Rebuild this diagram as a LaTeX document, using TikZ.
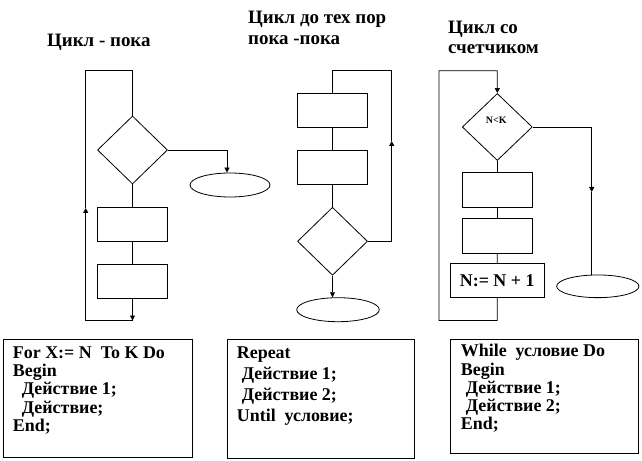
\documentclass[tikz,border=0pt]{standalone}
\usepackage{fontspec}
\setmainfont{Liberation Serif}
\usetikzlibrary{shapes.geometric,arrows.meta}
\begin{document}
\begin{tikzpicture}[x=1bp,y=-1bp,
  line/.style={line width=0.8bp,line join=miter},
  arr/.style={line,-{Triangle[length=5bp,width=5bp]}},
  dia/.style={draw,line,diamond,inner sep=0pt,minimum width=70bp,minimum height=68bp},
  blk/.style={draw,line,rectangle,inner sep=0pt,minimum width=70bp,minimum height=34bp},
  ell/.style={draw,line,ellipse,inner sep=0pt,minimum width=82bp,minimum height=24bp},
  ttl/.style={inner sep=0pt,anchor=base west,align=left},
  codetxt/.style={inner sep=0pt,anchor=base west,align=left},
  cbox/.style={draw,line,rectangle,inner sep=0pt,anchor=north west}
]
\useasboundingbox (0,0) rectangle (642,461);
\fill[white] (0,0) rectangle (642,461);

% ---------- titles (base = last line's baseline) ----------
\node[ttl,font=\fontsize{19}{21}\selectfont\bfseries] (T1) at (47,46.5) {Цикл - пока};
\node[ttl,font=\fontsize{19}{21.7}\selectfont\bfseries] (T2) at (248,45) {Цикл до тех пор\\пока -пока};
\node[ttl,font=\fontsize{19}{20}\selectfont\bfseries] (T3) at (448,53.3) {Цикл со\\счетчиком};

% ---------- chart 1 ----------
\node[dia] (d1) at (132.5,150) {};
\node[blk] (b11) at (132.5,224) {};
\node[blk] (b12) at (132.5,281) {};
\node[ell,minimum width=80bp] (e1) at (230,185) {};
\coordinate (c1a) at (132.5,320.5);
\coordinate (c1b) at (85.7,320.5);
\coordinate (c1c) at (85.7,208);
\coordinate (c1d) at (85.7,70.7);
\coordinate (c1e) at (132.5,70.7);
\draw[line] (d1.south) -- (b11.north);
\draw[line] (b11.south) -- (b12.north);
\draw[arr] (b12.south) -- (c1a);
\draw[arr] (c1a) -- (c1b) -- (c1c);
\draw[line] (c1c) -- (c1d) -- (c1e) -- (d1.north);
\draw[arr] (d1.east) -| ([xshift=-3bp]e1.north);

% ---------- chart 2 ----------
\node[blk] (b21) at (332.5,110.3) {};
\node[blk] (b22) at (332.5,167) {};
\node[dia] (d2) at (332.5,241.3) {};
\node[ell,minimum width=82.6bp] (e2) at (338,309.7) {};
\coordinate (c2a) at (391.7,241.3);
\coordinate (c2b) at (391.7,141);
\coordinate (c2c) at (391.7,70.7);
\coordinate (c2d) at (332.5,70.7);
\draw[line] (b21.south) -- (b22.north);
\draw[line] (b22.south) -- (d2.north);
\draw[arr] (d2.south) -- (d2.south |- e2.north);
\draw[arr] (d2.east) -- (c2a) -- (c2b);
\draw[line] (c2b) -- (c2c) -- (c2d) -- (b21.north);

% ---------- chart 3 ----------
\node[dia,minimum height=67bp] (d3) at (497.3,127) {};
\node[inner sep=0pt,font=\fontsize{10}{10}\selectfont\bfseries] (lk) at (496.3,120) {N<K};
\node[blk,minimum height=34.6bp] (b31) at (497.3,190) {};
\node[blk,minimum height=35bp] (b32) at (497.3,235.8) {};
\node[blk,minimum width=94.3bp,minimum height=34.4bp,font=\fontsize{18}{18}\selectfont\bfseries] (b33) at (497.2,280.5) {N:= N + 1};
\node[ell,minimum width=82.3bp,minimum height=22.7bp] (e3) at (597.8,286.3) {};
\coordinate (c3a) at (497.3,320.5);
\coordinate (c3b) at (439,320.5);
\coordinate (c3c) at (439,70.7);
\coordinate (c3d) at (497.3,70.7);
\coordinate (c3e) at (591.7,127);
\coordinate (c3f) at (591.7,192);
\draw[line] (d3.south) -- (b31.north);
\draw[line] (b31.south) -- (b32.north);
\draw[line] (b32.south) -- (b33.north);
\draw[arr] (b33.south) -- (c3a) -- (c3b) -- (c3c) -- (c3d) -- (d3.north);
\draw[arr] (d3.east) -- (c3e) -- (c3f);
\draw[line] (c3f) -- (c3f |- e3.north);

% ---------- code boxes ----------
\node[cbox,minimum width=189.6bp,minimum height=117.7bp] (cb1) at (2.7,339) {};
\node[cbox,minimum width=187.6bp,minimum height=118.7bp] (cb2) at (226.7,339) {};
\node[cbox,minimum width=188.3bp,minimum height=114.3bp] (cb3) at (450,339) {};

\node[codetxt,font=\fontsize{18}{18.4}\selectfont\bfseries] (k1) at (12.7,431.6)
 {For X:= N\ \ To K Do\\Begin\\\hspace*{9bp}Действие 1;\\\hspace*{9bp}Действие;\\End;};
\node[codetxt,font=\fontsize{18}{21.2}\selectfont\bfseries] (k2) at (236.7,421.6)
 {Repeat\\\hspace*{5bp}Действие 1;\\\hspace*{5bp}Действие 2;\\Until\ \ условие;};
\node[codetxt,font=\fontsize{18}{18.3}\selectfont\bfseries] (k3) at (460.7,429.9)
 {While\ \ условие Do\\Begin\\\hspace*{5bp}Действие 1;\\\hspace*{5bp}Действие 2;\\End;};
\end{tikzpicture}
\end{document}
